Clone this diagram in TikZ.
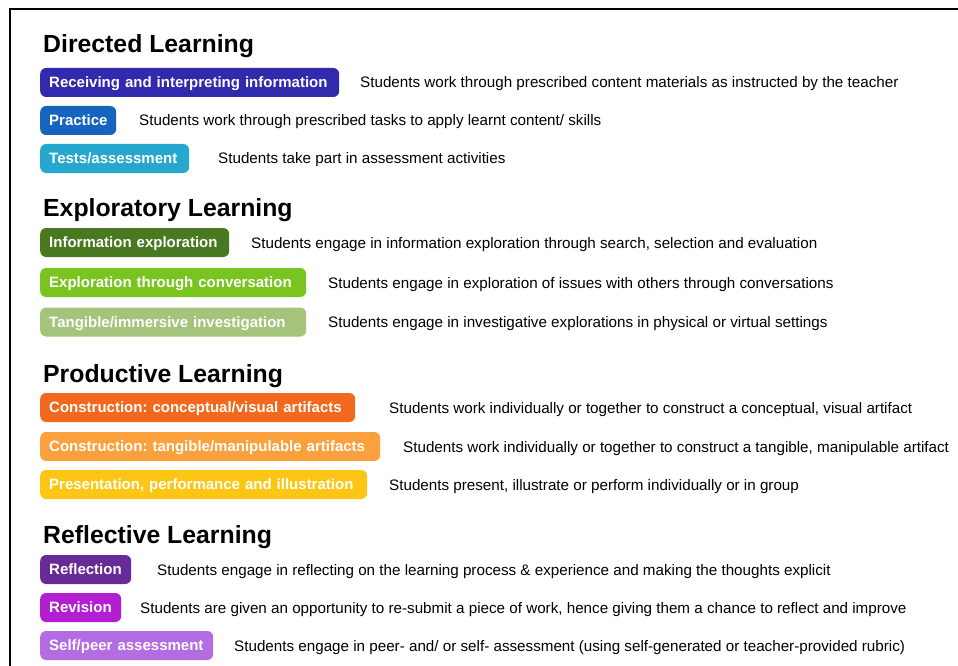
\documentclass[tikz,border=0pt]{standalone}
\usepackage{fontspec}
\setmainfont{Liberation Sans}
\begin{document}
\frenchspacing
\begin{tikzpicture}[x=1pt,y=-1pt,
  heading/.style={anchor=base west,inner sep=0pt,font=\bfseries\fontsize{24.8}{28}\selectfont},
  pill/.style={anchor=west,rounded corners=6pt,fill=#1,text=white,
    font=\bfseries\fontsize{15}{17}\selectfont,inner xsep=9pt,inner ysep=0pt,
    minimum height=29pt,text height=10.7pt,text depth=0pt,align=left},
  desc/.style={anchor=base west,inner sep=0pt,font=\fontsize{15.2}{17}\selectfont}]
\definecolor{cReceive}{RGB}{50,42,172}
\definecolor{cPractice}{RGB}{22,100,190}
\definecolor{cTests}{RGB}{38,168,206}
\definecolor{cInfo}{RGB}{72,120,32}
\definecolor{cConv}{RGB}{122,196,32}
\definecolor{cTang}{RGB}{164,196,124}
\definecolor{cConcept}{RGB}{242,104,30}
\definecolor{cManip}{RGB}{250,160,60}
\definecolor{cPresent}{RGB}{254,198,20}
\definecolor{cReflect}{RGB}{104,42,150}
\definecolor{cRevise}{RGB}{180,30,210}
\definecolor{cSelf}{RGB}{180,108,226}
\useasboundingbox (0,0) rectangle (958,666);
\fill[white] (0,0) rectangle (958,666);
% frame edges
\coordinate (fl) at (10,666);
\coordinate (fc) at (10,9);
\coordinate (fr) at (958,9);
\draw[line width=2pt] (fl) -- (fc) -- (fr);

% Directed Learning
\node[heading] (h1) at (43,53) {Directed Learning};
\node[pill=cReceive,text width=281pt] (p1) at (40,82.5) {Receiving and interpreting information};
\node[desc] (d1) at (360,88) {Students work through prescribed content materials as instructed by the teacher};
\node[pill=cPractice,text width=58pt] (p2) at (40,120.5) {Practice};
\node[desc] (d2) at (139,126) {Students work through prescribed tasks to apply learnt content/ skills};
\node[pill=cTests,text width=131pt] (p3) at (40,158.5) {Tests/assessment};
\node[desc] (d3) at (218,164) {Students take part in assessment activities};

% Exploratory Learning
\node[heading] (h2) at (43,216) {Exploratory Learning};
\node[pill=cInfo,text width=171pt] (p4) at (40,242.5) {Information exploration};
\node[desc] (d4) at (251,248) {Students engage in information exploration through search, selection and evaluation};
\node[pill=cConv,text width=248pt] (p5) at (40,282.5) {Exploration through conversation};
\node[desc] (d5) at (328,288) {Students engage in exploration of issues with others through conversations};
\node[pill=cTang,text width=248pt] (p6) at (40,322) {Tangible/immersive investigation};
\node[desc] (d6) at (328,327.5) {Students engage in investigative explorations in physical or virtual settings};

% Productive Learning
\node[heading] (h3) at (43,382) {Productive Learning};
\node[pill=cConcept,text width=297pt] (p7) at (40,407.5) {Construction: conceptual/visual artifacts};
\node[desc] (d7) at (389,413) {Students work individually or together to construct a conceptual, visual artifact};
\node[pill=cManip,text width=322pt] (p8) at (40,446.5) {Construction: tangible/manipulable artifacts};
\node[desc] (d8) at (403,452) {Students work individually or together to construct a tangible, manipulable artifact};
\node[pill=cPresent,text width=309pt] (p9) at (40,484.5) {Presentation, performance and illustration};
\node[desc] (d9) at (389,490) {Students present, illustrate or perform individually or in group};

% Reflective Learning
\node[heading] (h4) at (43,543) {Reflective Learning};
\node[pill=cReflect,text width=73pt] (p10) at (40,569.5) {Reflection};
\node[desc] (d10) at (157,575) {Students engage in reflecting on the learning process \& experience and making the thoughts explicit};
\node[pill=cRevise,text width=63pt] (p11) at (40,607.5) {Revision};
\node[desc] (d11) at (140,613) {Students are given an opportunity to re-submit a piece of work, hence giving them a chance to reflect and improve};
\node[pill=cSelf,text width=155pt] (p12) at (40,645.5) {Self/peer assessment};
\node[desc] (d12) at (234,651) {Students engage in peer- and/ or self- assessment (using self-generated or teacher-provided rubric)};
\end{tikzpicture}
\end{document}
